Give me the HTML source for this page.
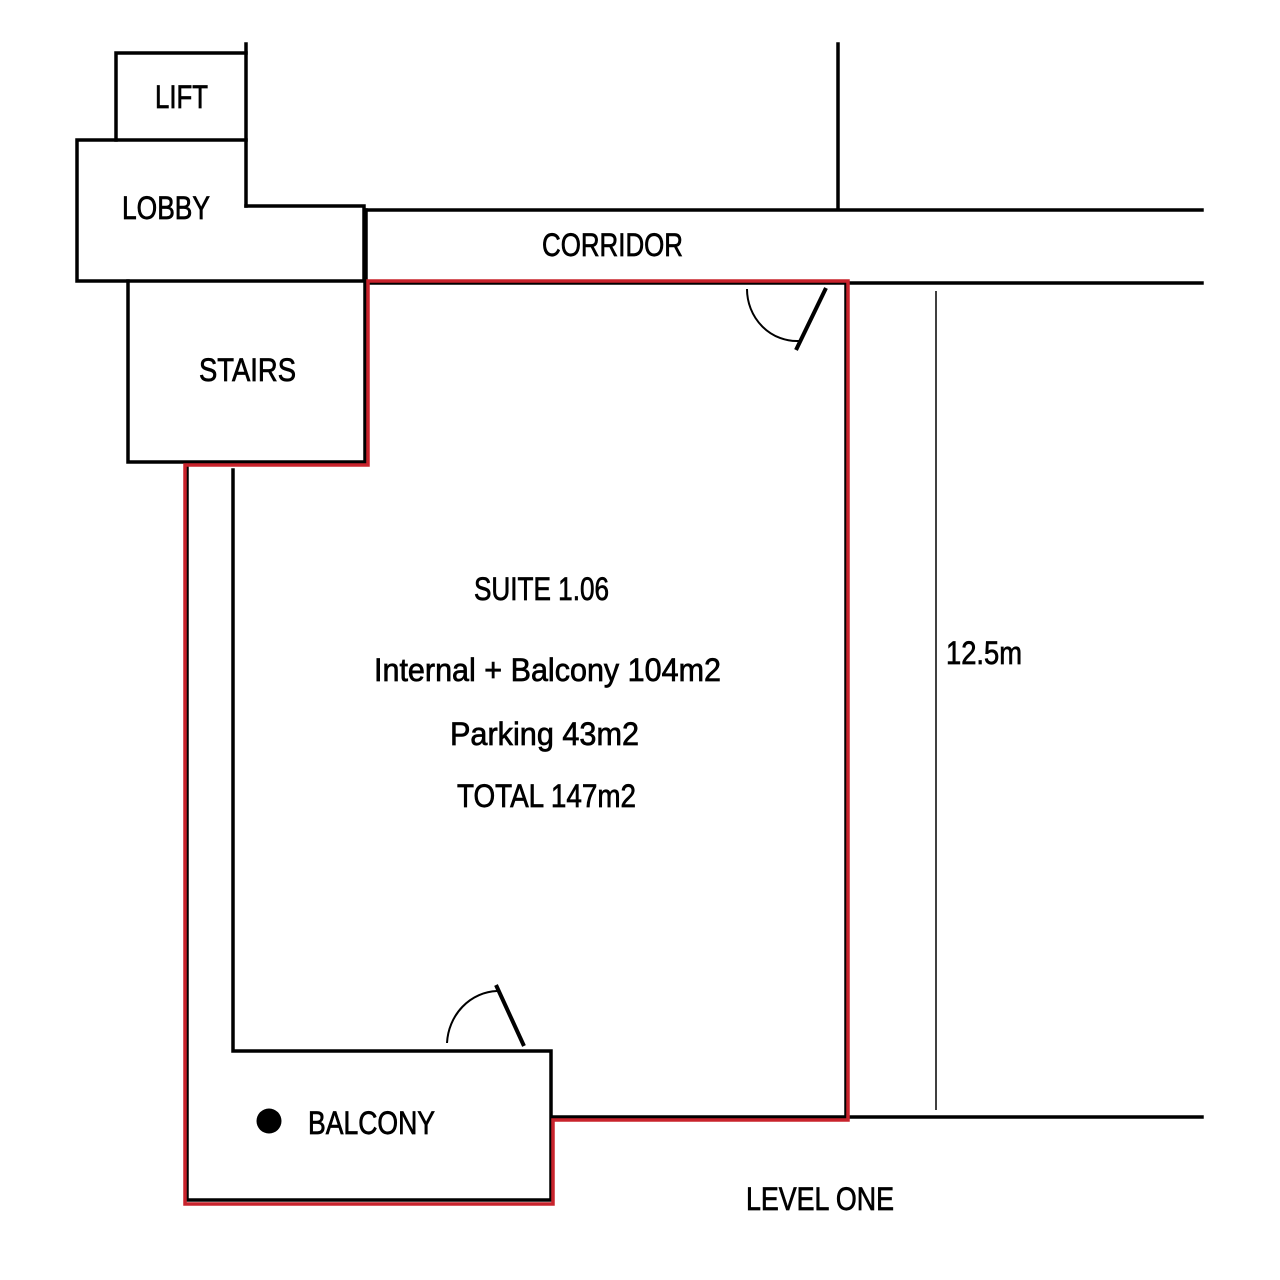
<!DOCTYPE html>
<html><head><meta charset="utf-8"><style>
html,body{margin:0;padding:0;background:#fff;}
svg{display:block;}
text{font-family:"Liberation Sans Narrow","Liberation Sans",sans-serif;font-size:32px;fill:#000;stroke:#000;stroke-width:0.7px;}
</style></head><body>
<svg width="1280" height="1280" viewBox="0 0 1280 1280" xmlns="http://www.w3.org/2000/svg">
<g fill="none" stroke="#000" stroke-width="3.5" stroke-linecap="square">
<path d="M116,140 L116,53 L246,53"/>
<path d="M246,44 L246,206"/>
<path d="M246,140 L77,140 L77,281 L364,281 L364,206 L246,206"/>
<path d="M366,210 L1202,210"/>
<path d="M366,210 L366,281"/>
<path d="M848,283 L1202,283"/>
<path d="M838,44 L838,208"/>
<path d="M128,281 L128,462 L365,462 L365,281"/>
<path d="M368,283 L846,283 L846,1117 L553,1117"/>
<path d="M848,1117 L1202,1117"/>
<path d="M233,470 L233,1051 L551,1051 L551,1200 L187,1200 L187,467"/>
</g>
<path d="M368,281 L848,281 L848,1120 L553,1120 L553,1204 L185,1204 L185,465 L368,465 Z" fill="none" stroke="#c8232c" stroke-width="3.5"/>
<line x1="936" y1="291" x2="936" y2="1110" stroke="#000" stroke-width="1.5"/>
<line x1="826" y1="288" x2="796" y2="350" stroke="#000" stroke-width="4"/>
<path d="M747,289 A50,52 0 0 0 799,341" fill="none" stroke="#000" stroke-width="2"/>
<line x1="496" y1="985" x2="524" y2="1046" stroke="#000" stroke-width="4"/>
<path d="M447,1043 A52,55 0 0 1 497,991" fill="none" stroke="#000" stroke-width="2"/>
<circle cx="269" cy="1121" r="12.5" fill="#000"/>
<text x="155" y="108" textLength="53" lengthAdjust="spacingAndGlyphs">LIFT</text>
<text x="122" y="219" textLength="88" lengthAdjust="spacingAndGlyphs">LOBBY</text>
<text x="542" y="256" textLength="141" lengthAdjust="spacingAndGlyphs">CORRIDOR</text>
<text x="199" y="381" textLength="97" lengthAdjust="spacingAndGlyphs">STAIRS</text>
<text x="474" y="600" textLength="135" lengthAdjust="spacingAndGlyphs">SUITE 1.06</text>
<text x="374" y="681" textLength="347" lengthAdjust="spacingAndGlyphs">Internal + Balcony  104m2</text>
<text x="450" y="745" textLength="189" lengthAdjust="spacingAndGlyphs">Parking 43m2</text>
<text x="457" y="807" textLength="179" lengthAdjust="spacingAndGlyphs">TOTAL 147m2</text>
<text x="946" y="664" textLength="76" lengthAdjust="spacingAndGlyphs">12.5m</text>
<text x="308" y="1134" textLength="127" lengthAdjust="spacingAndGlyphs">BALCONY</text>
<text x="746" y="1210" textLength="148" lengthAdjust="spacingAndGlyphs">LEVEL ONE</text>
</svg>
</body></html>
